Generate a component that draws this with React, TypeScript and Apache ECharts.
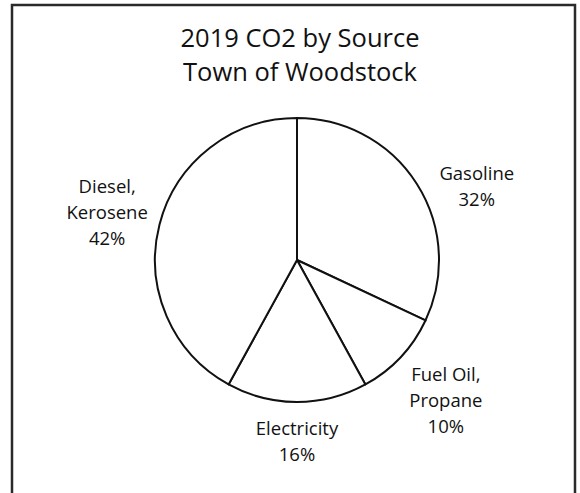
import React, { useEffect, useRef } from "react";
import * as echarts from "echarts";

const categories = ["Gasoline", "Fuel Oil,\nPropane", "Electricity", "Diesel,\nKerosene"];
const shares = [32, 10, 16, 42];
const titleLines = ["2019 CO2 by Source", "Town of Woodstock"];

const CX = 297;
const CY = 260;
const R = 142;
const LABEL_GAP = 12;
const LABEL_ANGLE_NUDGE = [10, 0, 0, 0];

export default function App() {
  const ref = useRef<HTMLDivElement>(null);
  useEffect(() => {
    if (!ref.current) return;
    const chart = echarts.init(ref.current, undefined, { renderer: "svg" });
    const total = shares.reduce((a, b) => a + b, 0);
    const mids: number[] = [];
    let acc = 0;
    shares.forEach((v) => {
      mids.push(((acc + v / 2) / total) * 360);
      acc += v;
    });
    const font = "'Open Sans', 'Noto Sans', sans-serif";
    chart.setOption({
      animation: false,
      backgroundColor: "#ffffff",
      title: {
        text: titleLines.join("\n"),
        left: 295,
        textAlign: "center",
        top: 15,
        textStyle: {
          fontFamily: font,
          fontSize: 25.5,
          fontWeight: "normal",
          color: "#111111",
          lineHeight: 34,
        },
      },
      graphic: [
        {
          type: "rect",
          shape: { x: 12, y: 5, width: 563, height: 520 },
          style: { fill: "none", stroke: "#2a2a2a", lineWidth: 2.5 },
          silent: true,
        },
      ],
      series: [
        {
          type: "pie",
          center: [CX, CY],
          radius: [0, R],
          startAngle: 90,
          clockwise: true,
          avoidLabelOverlap: false,
          itemStyle: { color: "#ffffff", borderColor: "#111111", borderWidth: 2 },
          emphasis: { disabled: true },
          label: {
            show: true,
            position: "outside",
            formatter: (p: any) => `${p.name}\n${p.value}%`,
            fontFamily: font,
            fontSize: 18.5,
            lineHeight: 26,
            color: "#111111",
            align: "center",
          },
          labelLine: { show: false, length: 10, length2: 0 },
          labelLayout: (params: any) => {
            const i = params.dataIndex;
            const th = ((mids[i] + LABEL_ANGLE_NUDGE[i]) * Math.PI) / 180;
            const ux = Math.sin(th);
            const uy = -Math.cos(th);
            const w = params.labelRect.width / 2;
            const h = params.labelRect.height / 2;
            const ex = Math.abs(ux) > 1e-6 ? w / Math.abs(ux) : Infinity;
            const ey = Math.abs(uy) > 1e-6 ? h / Math.abs(uy) : Infinity;
            const d = R + LABEL_GAP + Math.min(ex, ey);
            return {
              x: CX + ux * d,
              y: CY + uy * d,
              align: "center",
              verticalAlign: "middle",
            };
          },
          data: categories.map((name, i) => ({ name, value: shares[i] })),
        },
      ],
    });
    return () => chart.dispose();
  }, []);
  return (
    <div
      ref={ref}
      style={{ position: "fixed", left: 0, top: 0, width: 580, height: 493 }}
    />
  );
}
